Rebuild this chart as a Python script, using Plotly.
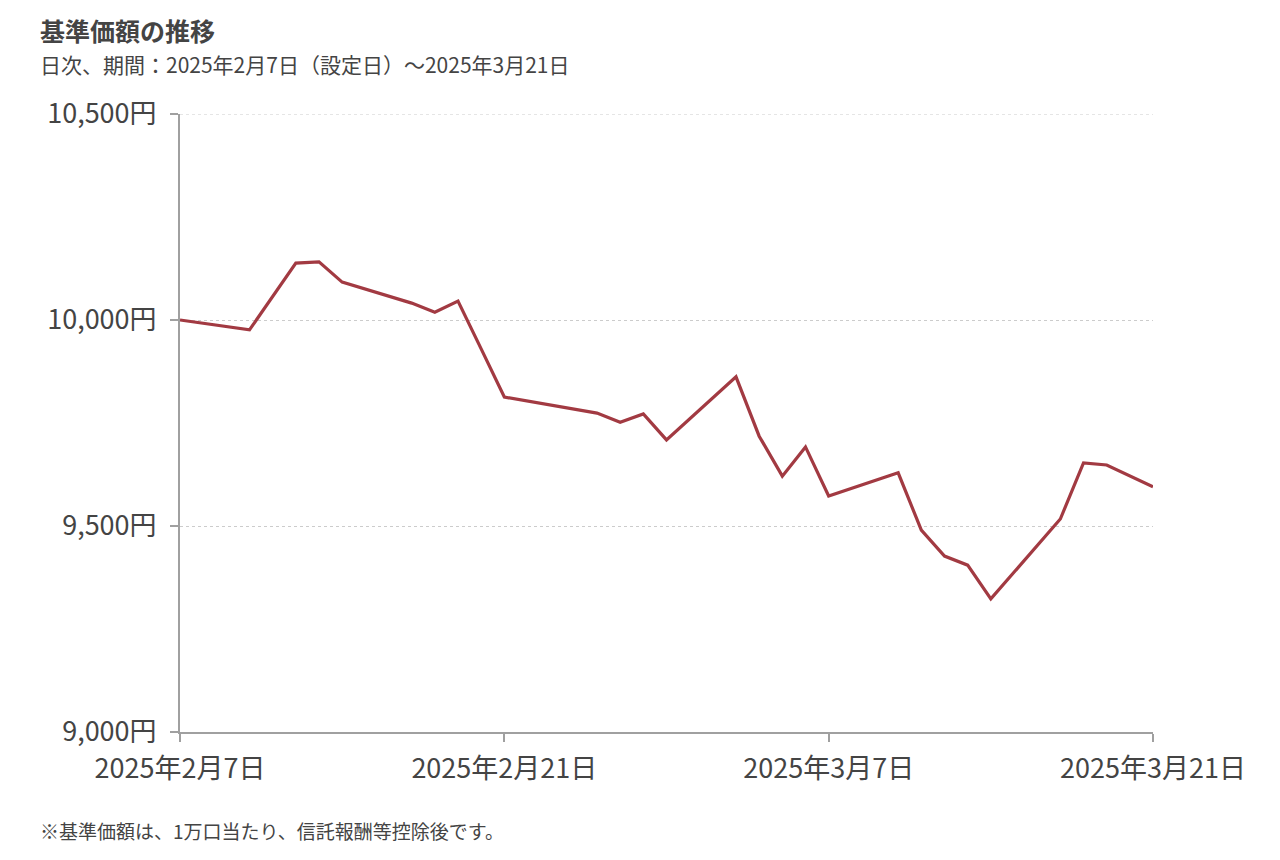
import plotly.graph_objects as go

dates = ["2025-02-07", "2025-02-10", "2025-02-12", "2025-02-13", "2025-02-14",
         "2025-02-17", "2025-02-18", "2025-02-19", "2025-02-20", "2025-02-21",
         "2025-02-25", "2025-02-26", "2025-02-27", "2025-02-28", "2025-03-03",
         "2025-03-04", "2025-03-05", "2025-03-06", "2025-03-07", "2025-03-10",
         "2025-03-11", "2025-03-12", "2025-03-13", "2025-03-14", "2025-03-17",
         "2025-03-18", "2025-03-19", "2025-03-21"]
nav = [10000, 9976, 10138, 10141, 10092,
       10041, 10019, 10046, 9930, 9813,
       9774, 9752, 9772, 9709, 9862,
       9718, 9621, 9692, 9573, 9629,
       9490, 9427, 9405, 9323, 9517,
       9653, 9648, 9595]

x_tickvals = ["2025-02-07", "2025-02-21", "2025-03-07", "2025-03-21"]
x_ticktext = ["2025年2月7日", "2025年2月21日", "2025年3月7日", "2025年3月21日"]
y_tickvals = [9000, 9500, 10000, 10500]
y_ticktext = ["9,000円", "9,500円", "10,000円", "10,500円"]

title = "基準価額の推移"
subtitle = "日次、期間：2025年2月7日（設定日）～2025年3月21日"
footnote = "※基準価額は、1万口当たり、信託報酬等控除後です。"

FONT = "Noto Sans CJK JP"
TXT = "#444444"

# page body has an 8px margin; figure coordinates are page coordinates - 8
L, R, T, B = 172, 135, 106, 136
W, H = 1280, 860

fig = go.Figure()
fig.add_trace(go.Scatter(
    x=dates, y=nav, mode="lines",
    line=dict(color="#a23a42", width=3.2),
    showlegend=False, hoverinfo="x+y",
))

fig.update_layout(
    width=W, height=H,
    margin=dict(l=L, r=R, t=T, b=B),
    paper_bgcolor="white", plot_bgcolor="white",
    font=dict(family=FONT, color=TXT),
    xaxis=dict(
        type="date",
        range=["2025-02-07", "2025-03-21"],
        tickvals=x_tickvals, ticktext=x_ticktext,
        showgrid=False, zeroline=False,
        showline=True, linecolor="#a0a0a0", linewidth=2,
        ticks="outside", ticklen=8, tickcolor="#a0a0a0", tickwidth=2,
        tickfont=dict(size=27, color=TXT, family=FONT),
        ticklabelstandoff=4,
    ),
    yaxis=dict(
        range=[9000, 10500],
        tickvals=y_tickvals, ticktext=y_ticktext,
        showgrid=True, gridcolor="#cccccc", griddash="dot", gridwidth=1,
        zeroline=False,
        showline=True, linecolor="#a0a0a0", linewidth=2,
        ticks="outside", ticklen=8, tickcolor="#a0a0a0", tickwidth=2,
        tickfont=dict(size=27, color=TXT, family=FONT),
        ticklabelstandoff=8,
    ),
)

# top gridline (at the upper edge of the range) drawn explicitly
fig.add_shape(type="line", xref="paper", yref="y",
              x0=0, x1=1, y0=y_tickvals[-1], y1=y_tickvals[-1],
              line=dict(color="#cccccc", width=1, dash="dot"), layer="below")

pw = W - L - R
ph = H - T - B


def ann(text, px, py, size):
    # px, py given in page pixels
    fx, fy = px - 8, py - 8
    fig.add_annotation(
        text=text, x=(fx - L) / pw, y=1 - (fy - T) / ph,
        xref="paper", yref="paper", showarrow=False,
        xanchor="left", yanchor="middle",
        font=dict(size=size, color=TXT, family=FONT),
    )


ann(f"<b>{title}</b>", 38, 30, 25)
ann(subtitle, 38, 64, 21)
ann(footnote, 38, 830, 19)

fig.write_html("out.html")
